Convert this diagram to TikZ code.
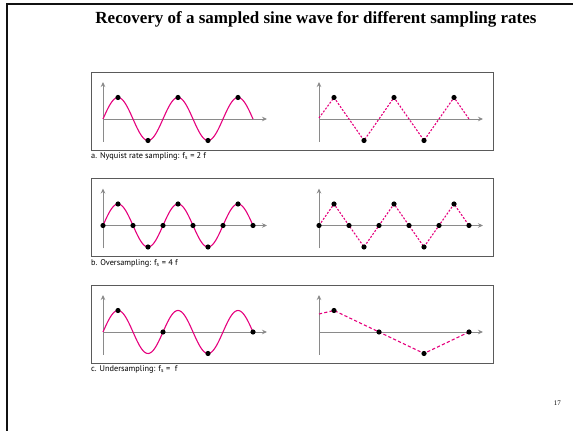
\documentclass[tikz,border=0pt]{standalone}
\usepackage{fontspec}
\setmainfont{Liberation Serif}
\newfontfamily\labelsans{PT Sans}
\usepackage{tikz}
\usetikzlibrary{arrows.meta}
\definecolor{wavepink}{HTML}{E5007D}
\definecolor{axisgray}{HTML}{8A8A8A}
\definecolor{framegray}{HTML}{5A5A5A}
\definecolor{slideblack}{HTML}{111111}
\tikzset{
  axisline/.style={draw=axisgray, line width=0.9pt, -{Stealth[length=5pt,width=4.5pt]}},
  sinewave/.style={draw=wavepink, line width=1.1pt},
  dottedwave/.style={draw=wavepink, line width=1.1pt, dash pattern=on 2pt off 1.6pt},
  dashedwave/.style={draw=wavepink, line width=1.1pt, dash pattern=on 3.2pt off 2.2pt},
  sampledot/.style={fill=black},
  panelframe/.style={draw=framegray, line width=0.8pt},
  panellabel/.style={font=\labelsans\fontsize{8.3}{9}\selectfont, anchor=base west, inner sep=0pt},
  slidetitle/.style={font=\fontsize{17}{19}\selectfont\bfseries, anchor=base, inner sep=0pt}
}

\begin{document}
\begin{tikzpicture}[x=1pt, y=1pt]
\useasboundingbox (0,0) rectangle (573,431);
\draw[slideblack, line width=2pt] (6,427) -- (573,427);
\draw[slideblack, line width=2pt] (7,427) -- (7,0);
\node[slidetitle] (title) at (316,407) {Recovery of a sampled sine wave for different sampling rates};
\node[font=\fontsize{7}{8}\selectfont, anchor=base east, inner sep=0pt] (pagenum) at (561,25) {17};

% a. Nyquist rate
\draw[panelframe] (91,359) rectangle (493,281);
\node[panellabel] (labela) at (91,272) {a. Nyquist rate sampling: f\textsubscript{s} = 2 f};
\begin{scope}[shift={(103,312)}]
\draw[axisline] (0,-23) -- (0,37);
\draw[axisline] (0,0) -- (164,0);
\draw[sinewave] plot[domain=0:150, samples=120, smooth] (\x,{21.5*sin(6*\x)});
\foreach \t/\v in {15/1,45/-1,75/1,105/-1,135/1}
  \fill[sampledot] (\t,21.5*\v) circle (2.6);
\end{scope}
\begin{scope}[shift={(319,312)}]
\draw[axisline] (0,-23) -- (0,37);
\draw[axisline] (0,0) -- (164,0);
\draw[dottedwave] (0,1) -- (15,21.5) -- (45,-21.5) -- (75,21.5) -- (105,-21.5) -- (135,21.5) -- (150,0);
\foreach \t/\v in {15/1,45/-1,75/1,105/-1,135/1}
  \fill[sampledot] (\t,21.5*\v) circle (2.6);
\end{scope}

% b. Oversampling
\draw[panelframe] (91,252.5) rectangle (493,174.5);
\node[panellabel] (labelb) at (91,165.5) {b. Oversampling: f\textsubscript{s} = 4 f};
\begin{scope}[shift={(103,205.5)}]
\draw[axisline] (0,-23) -- (0,37);
\draw[axisline] (0,0) -- (164,0);
\draw[sinewave] plot[domain=0:150, samples=120, smooth] (\x,{21.5*sin(6*\x)});
\foreach \t/\v in {0/0,15/1,30/0,45/-1,60/0,75/1,90/0,105/-1,120/0,135/1,150/0}
  \fill[sampledot] (\t,21.5*\v) circle (2.6);
\end{scope}
\begin{scope}[shift={(319,205.5)}]
\draw[axisline] (0,-23) -- (0,37);
\draw[axisline] (0,0) -- (164,0);
\draw[dottedwave] (0,0) -- (15,21.5) -- (30,0) -- (45,-21.5) -- (60,0) -- (75,21.5) -- (90,0) -- (105,-21.5) -- (120,0) -- (135,21.5) -- (150,0);
\foreach \t/\v in {0/0,15/1,30/0,45/-1,60/0,75/1,90/0,105/-1,120/0,135/1,150/0}
  \fill[sampledot] (\t,21.5*\v) circle (2.6);
\end{scope}

% c. Undersampling
\draw[panelframe] (91,146) rectangle (493,68);
\node[panellabel] (labelc) at (91,59) {c. Undersampling: f\textsubscript{s} =\ \ f};
\begin{scope}[shift={(103,99)}]
\draw[axisline] (0,-23) -- (0,37);
\draw[axisline] (0,0) -- (164,0);
\draw[sinewave] plot[domain=0:150, samples=120, smooth] (\x,{21.5*sin(6*\x)});
\foreach \t/\v in {15/1,60/0,105/-1,150/0}
  \fill[sampledot] (\t,21.5*\v) circle (2.6);
\end{scope}
\begin{scope}[shift={(319,99)}]
\draw[axisline] (0,-23) -- (0,37);
\draw[axisline] (0,0) -- (164,0);
\draw[dashedwave] (0,18) -- (15,21.5) -- (60,0) -- (105,-21.5) -- (150,0);
\foreach \t/\v in {15/1,60/0,105/-1,150/0}
  \fill[sampledot] (\t,21.5*\v) circle (2.6);
\end{scope}
\end{tikzpicture}
\end{document}
